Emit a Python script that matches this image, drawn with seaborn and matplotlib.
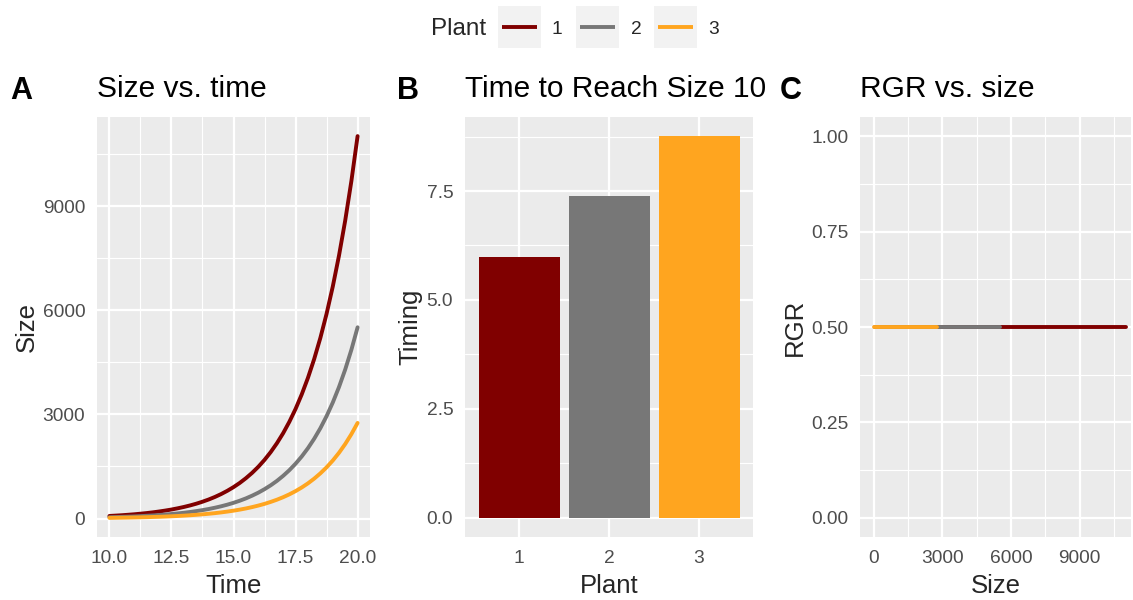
import numpy as np
import pandas as pd
import seaborn as sns
import matplotlib
matplotlib.use("Agg")
import matplotlib.pyplot as plt
from matplotlib.patches import Rectangle
from matplotlib.lines import Line2D

# ---- data -------------------------------------------------------------
plants = ["1", "2", "3"]
colors = ["#800000", "#777777", "#FFA51F"]

time = [10.0, 10.25, 10.5, 10.75, 11.0, 11.25, 11.5, 11.75, 12.0, 12.25,
        12.5, 12.75, 13.0, 13.25, 13.5, 13.75, 14.0, 14.25, 14.5, 14.75,
        15.0, 15.25, 15.5, 15.75, 16.0, 16.25, 16.5, 16.75, 17.0, 17.25,
        17.5, 17.75, 18.0, 18.25, 18.5, 18.75, 19.0, 19.25, 19.5, 19.75, 20.0]
size_plant1 = [74, 84, 95, 108, 122, 139, 157, 178, 202, 229,
               259, 294, 333, 377, 427, 484, 548, 621, 704, 798,
               904, 1024, 1161, 1315, 1490, 1689, 1914, 2169, 2457, 2785,
               3155, 3576, 4052, 4591, 5202, 5895, 6680, 7569, 8577, 9719, 11013]
size_plant2 = [37, 42, 48, 54, 61, 69, 79, 89, 101, 114,
               130, 147, 166, 188, 214, 242, 274, 311, 352, 399,
               452, 512, 580, 658, 745, 845, 957, 1084, 1229, 1392,
               1578, 1788, 2026, 2296, 2601, 2948, 3340, 3785, 4289, 4860, 5507]
size_plant3 = [19, 21, 24, 27, 31, 35, 39, 45, 50, 57,
               65, 73, 83, 94, 107, 121, 137, 155, 176, 200,
               226, 256, 290, 329, 373, 422, 479, 542, 614, 696,
               789, 894, 1013, 1148, 1301, 1474, 1670, 1892, 2144, 2430, 2753]

timing = [5.99, 7.38, 8.76]      # time to reach size 10
rgr = [0.50, 0.50, 0.50]         # relative growth rate per plant

# ---- tidy frames ------------------------------------------------------
sizes = [size_plant1, size_plant2, size_plant3]
growth = pd.concat(
    [pd.DataFrame({"Time": time, "Size": s, "Plant": p}) for p, s in zip(plants, sizes)],
    ignore_index=True)
reach = pd.DataFrame({"Plant": plants, "Timing": timing})
rgr_df = pd.concat(
    [pd.DataFrame({"Size": s, "RGR": r, "Plant": p}) for p, s, r in zip(plants, sizes, rgr)],
    ignore_index=True)
palette = dict(zip(plants, colors))

# ---- theme ------------------------------------------------------------
sns.set_theme(style="darkgrid")
plt.rcParams.update({
    "font.family": ["Liberation Sans", "DejaVu Sans"],
    "axes.facecolor": "#EBEBEB",
    "axes.edgecolor": "#EBEBEB",
    "axes.linewidth": 0,
    "figure.facecolor": "white",
    "xtick.color": "#333333",
    "ytick.color": "#333333",
    "xtick.labelcolor": "#4D4D4D",
    "ytick.labelcolor": "#4D4D4D",
})

W, H = 1133, 600
fig = plt.figure(figsize=(W / 100, H / 100), dpi=100)

TICK_FS = 13.8
LABEL_FS = 18.5
TITLE_FS = 21.5
LETTER_FS = 22


def px_axes(x0, y0, x1, y1):
    return fig.add_axes([x0 / W, 1 - y1 / H, (x1 - x0) / W, (y1 - y0) / H])


def style(ax, xminor=None, yminor=None):
    ax.grid(False)
    ax.set_axisbelow(True)
    for v in ax.get_xticks():
        ax.axvline(v, color="white", lw=1.6, zorder=0.5)
    for v in ax.get_yticks():
        ax.axhline(v, color="white", lw=1.6, zorder=0.5)
    for v in (xminor or []):
        ax.axvline(v, color="white", lw=0.8, zorder=0.4)
    for v in (yminor or []):
        ax.axhline(v, color="white", lw=0.8, zorder=0.4)
    ax.tick_params(axis="both", which="major", length=4.5, width=1.3,
                   labelsize=TICK_FS, color="#333333")
    ax.tick_params(axis="x", pad=5)
    ax.tick_params(axis="y", pad=4)
    ax.xaxis.label.set_size(LABEL_FS)
    ax.yaxis.label.set_size(LABEL_FS)
    ax.xaxis.labelpad = 5
    ax.yaxis.labelpad = 3
    for s in ax.spines.values():
        s.set_visible(False)


def heading(ax, letter, title, letter_x):
    fig.text(letter_x / W, 1 - 91 / H, letter, fontsize=LETTER_FS, fontweight="bold",
             va="center", ha="left", color="black")
    pos = ax.get_position()
    fig.text(pos.x0, 1 - 89 / H, title, fontsize=TITLE_FS, va="center", ha="left",
             color="black")


# ---- panel A: size over time -----------------------------------------
axA = px_axes(97, 117, 370, 537)
sns.lineplot(data=growth, x="Time", y="Size", hue="Plant", palette=palette,
             lw=2.8, legend=False, ax=axA, estimator=None)
axA.set_xlim(9.5, 20.5)
axA.set_ylim(-532, 11563)
axA.set_xticks([10.0, 12.5, 15.0, 17.5, 20.0])
axA.set_xticklabels(["10.0", "12.5", "15.0", "17.5", "20.0"])
axA.set_yticks([0, 3000, 6000, 9000])
axA.set_yticklabels(["0", "3000", "6000", "9000"])
style(axA, xminor=[11.25, 13.75, 16.25, 18.75], yminor=[1500, 4500, 7500, 10500])
heading(axA, "A", "Size vs. time", 10)

# ---- panel B: time to reach size 10 ----------------------------------
axB = px_axes(465, 117, 753, 537)
sns.barplot(data=reach, x="Plant", y="Timing", hue="Plant", palette=palette,
            width=0.9, saturation=1, legend=False, ax=axB, zorder=2,
            edgecolor="none", linewidth=0)
axB.set_xlim(-0.6, 2.6)
axB.set_ylim(-0.438, 9.198)
axB.set_yticks([0.0, 2.5, 5.0, 7.5])
axB.set_yticklabels(["0.0", "2.5", "5.0", "7.5"])
style(axB, yminor=[1.25, 3.75, 6.25, 8.75])
heading(axB, "B", "Time to Reach Size 10", 397)

# ---- panel C: RGR against size ---------------------------------------
axC = px_axes(860, 117, 1131, 537)
sns.lineplot(data=rgr_df, x="Size", y="RGR", hue="Plant", palette=palette,
             lw=2.8, legend=False, ax=axC, estimator=None, sort=False)
axC.set_xlim(-600, 11250)
axC.set_ylim(-0.05, 1.05)
axC.set_xticks([0, 3000, 6000, 9000])
axC.set_xticklabels(["0", "3000", "6000", "9000"])
axC.set_yticks([0.0, 0.25, 0.5, 0.75, 1.0])
axC.set_yticklabels(["0.00", "0.25", "0.50", "0.75", "1.00"])
style(axC, xminor=[1500, 4500, 7500, 10500], yminor=[0.125, 0.375, 0.625, 0.875])
heading(axC, "C", "RGR vs. size", 780)

# ---- shared legend ----------------------------------------------------
fig.text(431 / W, 1 - 29 / H, "Plant", fontsize=17.5, va="center", ha="left")
key_x = [498, 576, 654]
lab_x = [557, 636, 714]
for p, c, kx, lx in zip(plants, colors, key_x, lab_x):
    fig.patches.append(Rectangle((kx / W, 1 - 48 / H), 43 / W, 42 / H,
                                 transform=fig.transFigure, facecolor="#F2F2F2",
                                 edgecolor="none"))
    fig.lines.append(Line2D([(kx + 4) / W, (kx + 39) / W], [1 - 27 / H, 1 - 27 / H],
                            transform=fig.transFigure, color=c, lw=2.8,
                            solid_capstyle="butt"))
    fig.text(lx / W, 1 - 29 / H, p, fontsize=13.8, va="center", ha="center")

fig.savefig("out.png", dpi=100)
